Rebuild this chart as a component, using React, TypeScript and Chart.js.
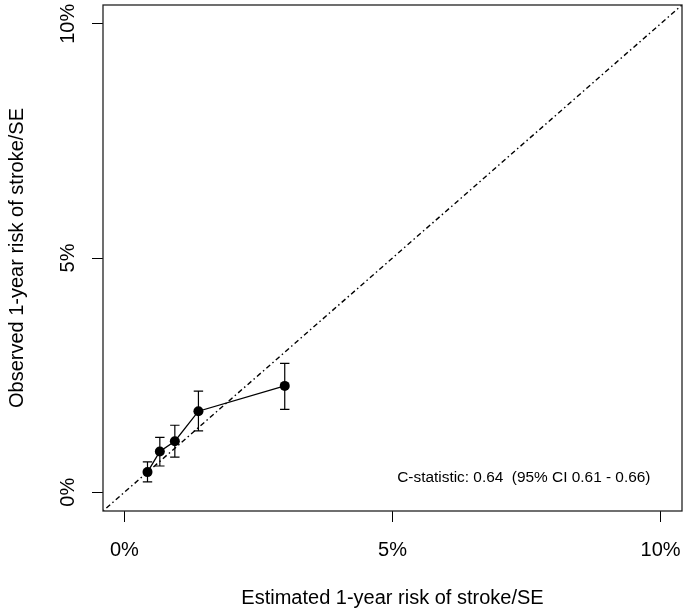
import React, { useEffect, useRef } from 'react';
import { Chart, registerables } from 'chart.js';

Chart.register(...registerables);

// ---- data ----
const estimated = [0.43, 0.66, 0.94, 1.38, 2.99];
const observed = [0.43, 0.87, 1.09, 1.73, 2.27];
const lowerCI = [0.22, 0.56, 0.75, 1.31, 1.77];
const upperCI = [0.65, 1.17, 1.43, 2.16, 2.75];
const axisTicks = [0, 5, 10];
const tickLabels = ['0%', '5%', '10%'];
const axisMin = -0.4;
const axisMax = 10.4;
const xTitle = 'Estimated 1-year risk of stroke/SE';
const yTitle = 'Observed 1-year risk of stroke/SE';
const cStatText = 'C-statistic: 0.64  (95% CI 0.61 - 0.66)';
const cStatAt = { x: 7.45, y: 0.3 };

const FONT = '"Liberation Sans", Arial, Helvetica, sans-serif';

const rPlotPlugin = {
  id: 'rPlot',
  afterDatasetsDraw(chart: any) {
    const { ctx, chartArea: ca, scales } = chart;
    const xs = scales.x;
    const ys = scales.y;
    ctx.save();
    // error bars
    ctx.strokeStyle = '#000';
    ctx.lineWidth = 1.2;
    const cap = 4.7;
    estimated.forEach((ex, i) => {
      const px = xs.getPixelForValue(ex);
      const pLo = ys.getPixelForValue(lowerCI[i]);
      const pHi = ys.getPixelForValue(upperCI[i]);
      ctx.beginPath();
      ctx.moveTo(px, pLo);
      ctx.lineTo(px, pHi);
      ctx.moveTo(px - cap, pLo);
      ctx.lineTo(px + cap, pLo);
      ctx.moveTo(px - cap, pHi);
      ctx.lineTo(px + cap, pHi);
      ctx.stroke();
    });
    // box
    ctx.strokeStyle = '#222';
    ctx.lineWidth = 1.3;
    ctx.strokeRect(ca.left, ca.top, ca.right - ca.left, ca.bottom - ca.top);
    // y tick labels (rotated, R style)
    ctx.fillStyle = '#000';
    ctx.font = '20px ' + FONT;
    ctx.textAlign = 'center';
    ctx.textBaseline = 'alphabetic';
    axisTicks.forEach((v, i) => {
      const py = ys.getPixelForValue(v);
      ctx.save();
      ctx.translate(ca.left - 29, py);
      ctx.rotate(-Math.PI / 2);
      ctx.fillText(tickLabels[i], 0, 0);
      ctx.restore();
    });
    // annotation
    ctx.font = '15.4px ' + FONT;
    ctx.textAlign = 'center';
    ctx.textBaseline = 'middle';
    ctx.fillText(cStatText, xs.getPixelForValue(cStatAt.x), ys.getPixelForValue(cStatAt.y));
    ctx.restore();
  },
};

export default function App() {
  const ref = useRef<HTMLCanvasElement | null>(null);

  useEffect(() => {
    if (!ref.current) return;
    const points = estimated.map((x, i) => ({ x, y: observed[i] }));
    const gridOpts = {
      drawOnChartArea: false,
      drawTicks: true,
      tickLength: 11,
      color: '#000',
      lineWidth: 1,
    };
    const chart = new Chart(ref.current, {
      type: 'scatter',
      data: {
        datasets: [
          {
            label: 'Reference',
            data: [
              { x: axisMin, y: axisMin },
              { x: axisMax, y: axisMax },
            ],
            showLine: true,
            borderColor: '#000',
            borderWidth: 1.4,
            borderDash: [1.5, 3, 5, 3],
            pointRadius: 0,
            pointHoverRadius: 0,
          },
          {
            label: 'Observed',
            data: points,
            showLine: true,
            borderColor: '#000',
            borderWidth: 1.3,
            pointRadius: 5,
            pointBackgroundColor: '#000',
            pointBorderColor: '#000',
            pointBorderWidth: 0,
          },
        ],
      },
      options: {
        animation: false,
        responsive: false,
        devicePixelRatio: 1,
        layout: { autoPadding: false, padding: { left: 0, right: 2, top: 5, bottom: 0 } },
        plugins: {
          legend: { display: false },
          tooltip: { enabled: false },
        },
        scales: {
          x: {
            type: 'linear',
            min: axisMin,
            max: axisMax,
            afterBuildTicks: (a: any) => {
              a.ticks = axisTicks.map((v) => ({ value: v }));
            },
            afterFit: (a: any) => {
              a.height = 103;
              a.paddingLeft = 0;
              a.paddingRight = 0;
            },
            grid: gridOpts,
            border: { display: false },
            ticks: {
              autoSkip: false,
              maxRotation: 0,
              minRotation: 0,
              padding: 16,
              color: '#000',
              font: { size: 20, family: FONT },
              callback: (v: any) => {
                const idx = axisTicks.indexOf(Number(v));
                return idx >= 0 ? tickLabels[idx] : '';
              },
            },
            title: {
              display: true,
              text: xTitle,
              color: '#000',
              font: { size: 20, family: FONT },
              padding: { top: 0, bottom: 4 },
            },
          },
          y: {
            type: 'linear',
            min: axisMin,
            max: axisMax,
            afterBuildTicks: (a: any) => {
              a.ticks = axisTicks.map((v) => ({ value: v }));
            },
            afterFit: (a: any) => {
              a.width = 103;
              a.paddingTop = 0;
              a.paddingBottom = 0;
            },
            grid: gridOpts,
            border: { display: false },
            ticks: { display: false },
            title: {
              display: true,
              text: yTitle,
              color: '#000',
              font: { size: 20, family: FONT },
              padding: { top: 5, bottom: 0 },
            },
          },
        },
      },
      plugins: [rPlotPlugin],
    });
    return () => chart.destroy();
  }, []);

  return (
    <div style={{ position: 'fixed', left: 0, top: 0, width: 684, height: 614, background: '#fff' }}>
      <canvas ref={ref} width={684} height={614} style={{ display: 'block' }} />
    </div>
  );
}
